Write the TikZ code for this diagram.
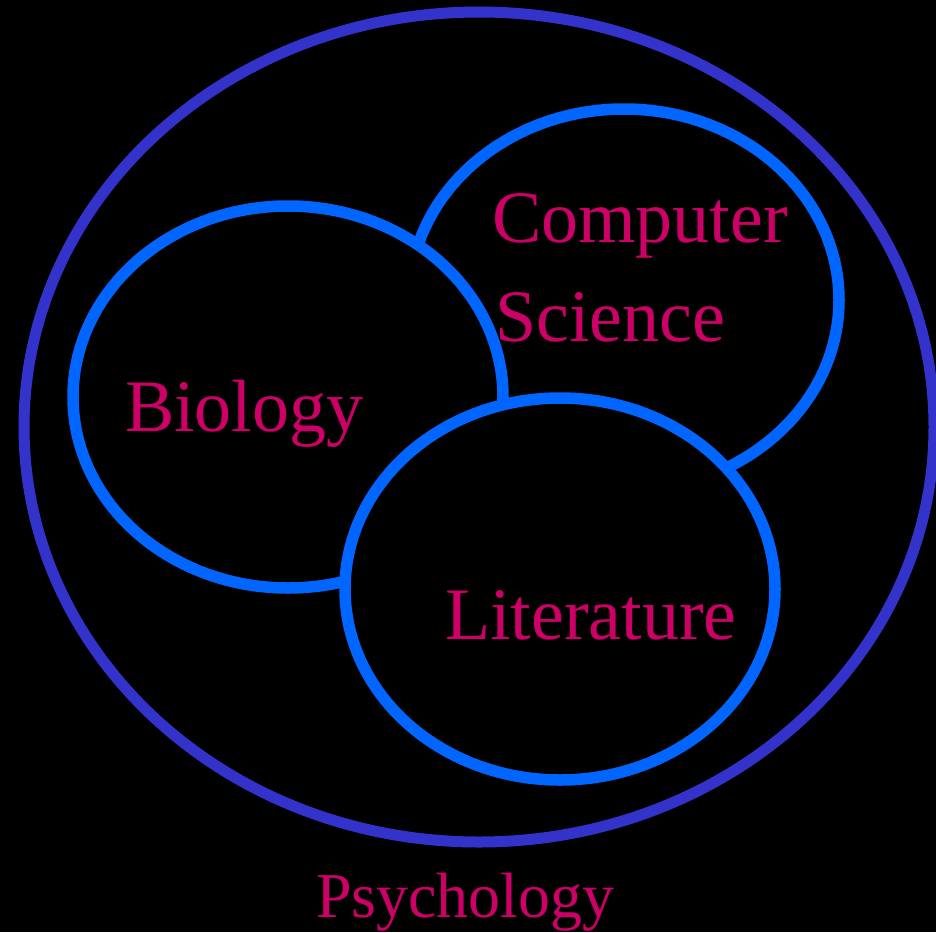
\documentclass[tikz,border=0pt]{standalone}
\usepackage{fontspec}
\setmainfont{Liberation Serif}
\usetikzlibrary{shapes.geometric}

\definecolor{setblue}{HTML}{0066FF}
\definecolor{outerblue}{HTML}{3333CC}
\definecolor{labelred}{HTML}{CC0066}

\begin{document}
\begin{tikzpicture}[x=1pt, y=-1pt,
  every node/.style={inner sep=0pt, outer sep=0pt},
  subset/.style={draw=setblue, fill=black, ellipse, line width=11.5pt, minimum width=430pt, minimum height=382pt},
  setlabel/.style={anchor=base west, text=labelred, font=\fontsize{74}{80}\selectfont}]

% Background
\fill[black] (0,0) rectangle (936,932);
\useasboundingbox (0,0) rectangle (936,932);

% Outer set
\node (Psy) [draw=outerblue, ellipse, line width=11pt, minimum width=910pt, minimum height=830pt] at (479,427) {};

% Inner sets, later ones drawn on top
\node (CS) [subset] at (624,300) {};
\node (Bio) [subset] at (288,397) {};
\node (Lit) [subset] at (560,589) {};

% Labels
\node (CSText) [setlabel, align=left] at (492,242) {Computer};
\node (CSText2) [setlabel] at (495,341) {Science};
\node (BioText) [setlabel] at (125,431) {Biology};
\node (LitText) [setlabel] at (445,639) {Literature};
\node (PsyText) [setlabel, font=\fontsize{64}{70}\selectfont] at (316,917) {Psychology};

\end{tikzpicture}
\end{document}
